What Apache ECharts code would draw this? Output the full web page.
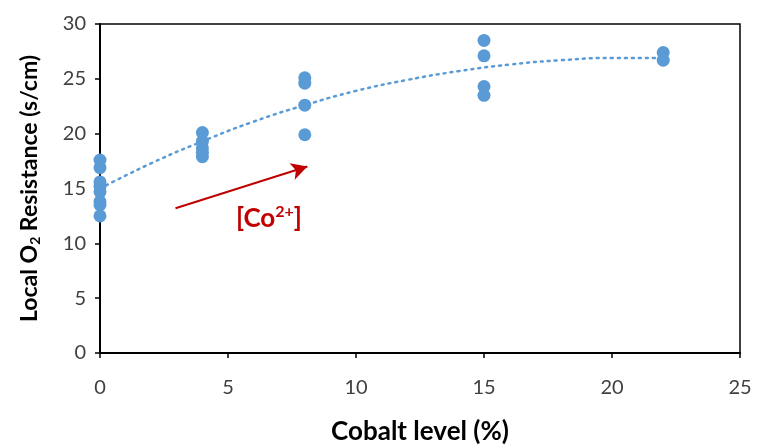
<!DOCTYPE html>
<html>
<head>
<meta charset="utf-8">
<script src="https://cdn.jsdelivr.net/npm/echarts@6/dist/echarts.min.js"></script>
<style>
  html, body { margin: 0; padding: 0; background: #fff; }
  #main { width: 757px; height: 445px; }
</style>
</head>
<body>
<div id="main"></div>
<script>
// measured points: [cobalt %, resistance s/cm]
const cobaltLevel = [0, 0, 0, 0, 0, 0, 0, 0, 4, 4, 4, 4, 4, 8, 8, 8, 8, 15, 15, 15, 15, 22, 22];
const resistance = [17.6, 16.9, 15.6, 15.2, 14.7, 13.8, 13.5, 12.5,
  20.1, 19.3, 18.7, 18.3, 17.9,
  25.1, 24.6, 22.6, 19.9,
  28.5, 27.1, 24.3, 23.5,
  27.4, 26.7];
// dotted trendline
const trendX = [0, 2, 4, 6, 8, 10, 12, 14, 16, 18, 20, 22];
const trendY = [15.0, 17.3, 19.3, 21.1, 22.6, 23.9, 24.9, 25.7, 26.3, 26.7, 26.9, 26.9];
// arrow annotation (data coords)
const arrowFrom = [2.95, 13.2];
const arrowTo = [8.1, 17.0];
const labelPos = [6.6, 12.3];

const font = "Lato, 'Open Sans', sans-serif";
const red = "#C00000";
const blue = "#5B9BD5";

const chart = echarts.init(document.getElementById("main"));
chart.setOption({
  animation: false,
  grid: {
    left: 100, right: 17, top: 24, bottom: 92,
    outerBoundsMode: "none",
    containLabel: false,
    show: true, borderColor: "#000", borderWidth: 1.5,
  },
  xAxis: {
    type: "value",
    min: 0, max: 25, interval: 5,
    name: "Cobalt level (%)",
    nameLocation: "middle",
    nameGap: 66,
    nameTextStyle: { fontFamily: font, fontSize: 26, fontWeight: "bold", color: "#000" },
    axisLine: { show: true, lineStyle: { color: "#000", width: 2 } },
    axisTick: { show: true, length: 5, lineStyle: { color: "#000", width: 1.5 } },
    axisLabel: { fontFamily: font, fontSize: 20, color: "#404040", margin: 25 },
    splitLine: { show: false },
  },
  yAxis: {
    type: "value",
    min: 0, max: 30, interval: 5,
    name: "Local O{sub|2} Resistance (s/cm)",
    nameLocation: "middle",
    nameGap: 58,
    nameTextStyle: {
      fontFamily: font, fontSize: 23, fontWeight: "bold", color: "#000",
      rich: { sub: { fontFamily: font, fontSize: 14, fontWeight: "bold", color: "#000", verticalAlign: "bottom", padding: [11, 0, 0, 0] } },
    },
    axisLine: { show: true, lineStyle: { color: "#000", width: 2 } },
    axisTick: { show: true, length: 5, lineStyle: { color: "#000", width: 1.5 } },
    axisLabel: { fontFamily: font, fontSize: 20, color: "#404040", margin: 14 },
    splitLine: { show: false },
  },
  series: [
    {
      type: "line",
      data: trendX.map((x, i) => [x, trendY[i]]),
      smooth: true,
      showSymbol: false,
      lineStyle: { color: blue, width: 2.5, type: [2, 5], cap: "round" },
      markLine: {
        silent: true,
        symbol: ["none", "arrow"],
        symbolSize: [13, 16],
        label: { show: false },
        lineStyle: { color: red, width: 2, type: "solid" },
        data: [[{ coord: arrowFrom }, { coord: arrowTo }]],
      },
      markPoint: {
        silent: true,
        symbol: "rect",
        symbolSize: 1,
        itemStyle: { color: "transparent" },
        label: {
          show: true,
          formatter: "[Co{sup|2+}]",
          fontFamily: font, fontSize: 26, fontWeight: "bold", color: red,
          rich: { sup: { fontFamily: font, fontSize: 16, fontWeight: "bold", color: red, verticalAlign: "top", padding: [0, 0, 12, 0] } },
        },
        data: [{ coord: labelPos }],
      },
    },
    {
      type: "scatter",
      data: cobaltLevel.map((x, i) => [x, resistance[i]]),
      symbolSize: 13,
      itemStyle: { color: blue, opacity: 1 },
    },
  ],
});
</script>
</body>
</html>
